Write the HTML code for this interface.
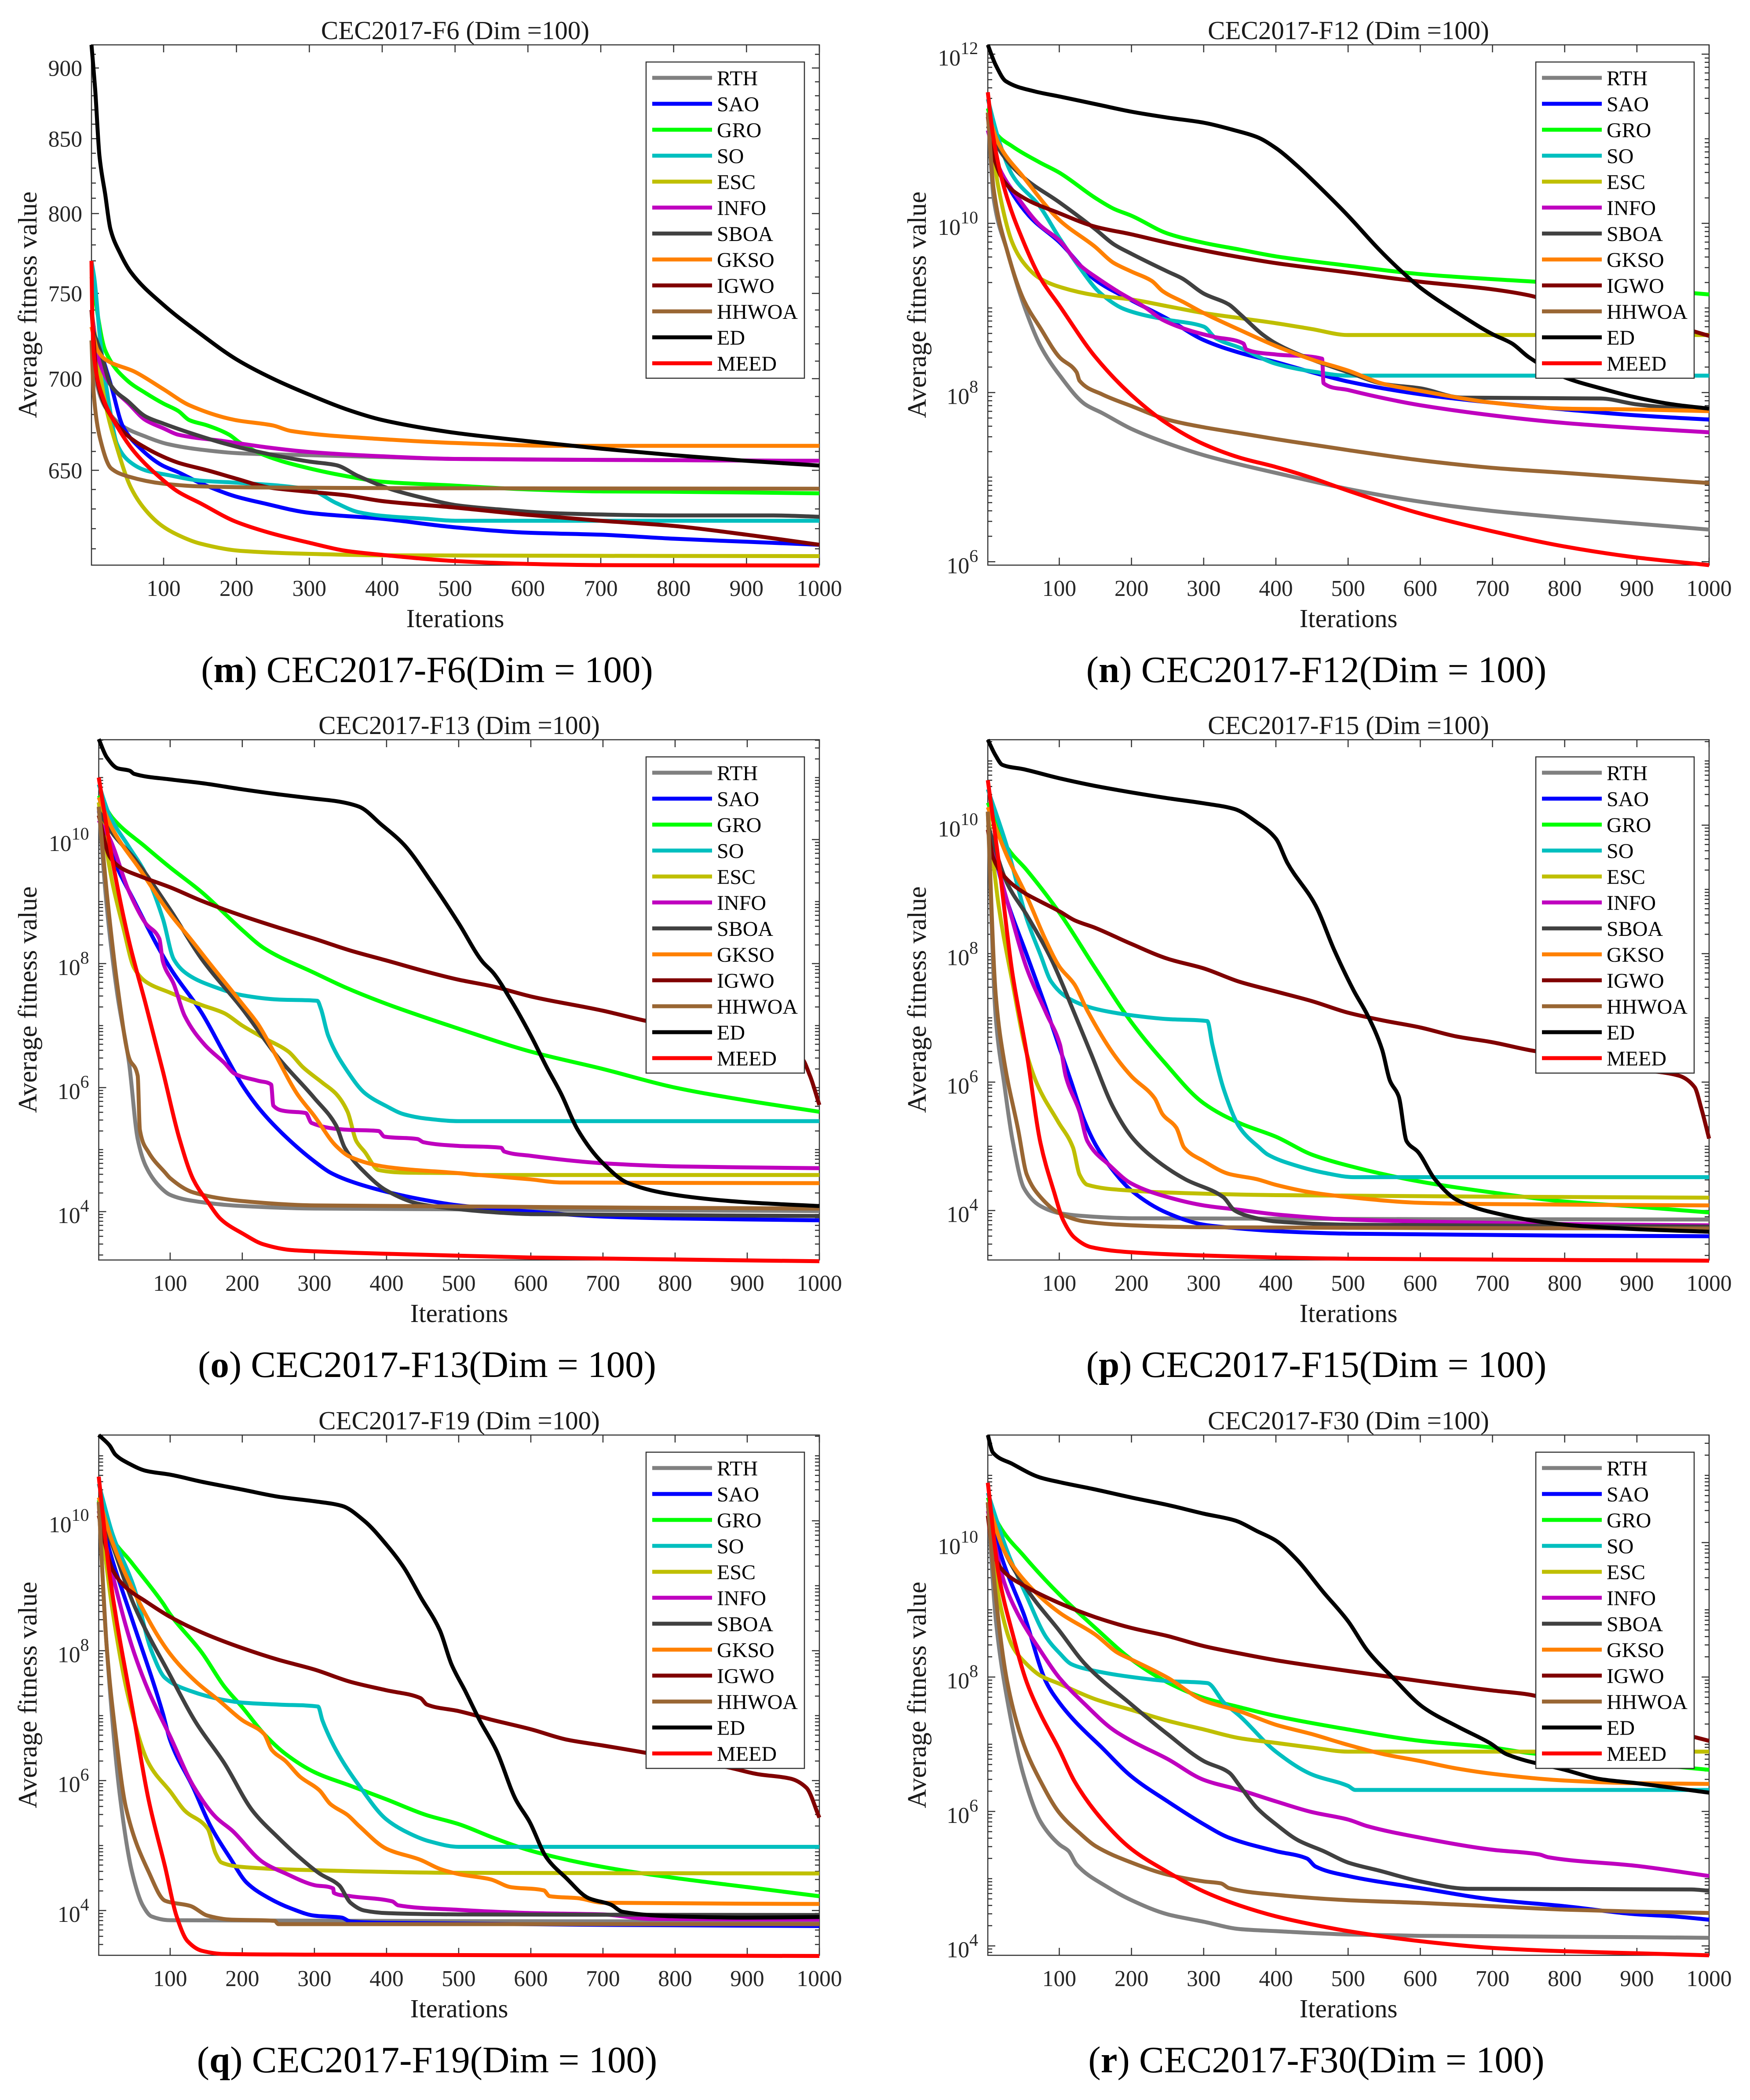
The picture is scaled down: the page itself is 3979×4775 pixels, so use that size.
<!DOCTYPE html>
<html lang="en">
<head>
<meta charset="utf-8">
<title>CEC2017 convergence curves (Dim = 100)</title>
<style>
html,body{margin:0;padding:0;background:#fff;}
svg{display:block;}
text{font-family:"Liberation Serif","Times New Roman",serif;fill:#1a1a1a;}
.title,.xlabel{font-size:59px;}
.ylabel{font-size:60px;}
.caption{font-size:85px;fill:#000;}
.tick{font-size:51.6px;fill:#262626;}
.leg{font-size:48px;fill:#000;}
</style>
</head>
<body>
<svg id="figure" xmlns="http://www.w3.org/2000/svg" width="3979" height="4775" viewBox="0 0 3979 4775">
<rect x="0" y="0" width="3979" height="4775" fill="#fff"/>

<g id="f6">
<text class="title" x="1035" y="89" text-anchor="middle">CEC2017-F6 (Dim =100)</text>
<text class="xlabel" x="1035" y="1426" text-anchor="middle">Iterations</text>
<text class="ylabel" transform="translate(83,693) rotate(-90)" text-anchor="middle">Average fitness value</text>
<text class="caption" x="971" y="1551" text-anchor="middle">(<tspan font-weight="bold">m</tspan>) CEC2017-F6(Dim = 100)</text>
</g>

<g id="f12">
<text class="title" x="3066" y="89" text-anchor="middle">CEC2017-F12 (Dim =100)</text>
<text class="xlabel" x="3066" y="1426" text-anchor="middle">Iterations</text>
<text class="ylabel" transform="translate(2105,693) rotate(-90)" text-anchor="middle">Average fitness value</text>
<text class="caption" x="2993" y="1551" text-anchor="middle">(<tspan font-weight="bold">n</tspan>) CEC2017-F12(Dim = 100)</text>
</g>

<g id="f13">
<text class="title" x="1044" y="1669" text-anchor="middle">CEC2017-F13 (Dim =100)</text>
<text class="xlabel" x="1044" y="3006" text-anchor="middle">Iterations</text>
<text class="ylabel" transform="translate(83,2273) rotate(-90)" text-anchor="middle">Average fitness value</text>
<text class="caption" x="971" y="3131" text-anchor="middle">(<tspan font-weight="bold">o</tspan>) CEC2017-F13(Dim = 100)</text>
</g>

<g id="f15">
<text class="title" x="3066" y="1669" text-anchor="middle">CEC2017-F15 (Dim =100)</text>
<text class="xlabel" x="3066" y="3006" text-anchor="middle">Iterations</text>
<text class="ylabel" transform="translate(2105,2273) rotate(-90)" text-anchor="middle">Average fitness value</text>
<text class="caption" x="2993" y="3131" text-anchor="middle">(<tspan font-weight="bold">p</tspan>) CEC2017-F15(Dim = 100)</text>
</g>

<g id="f19">
<text class="title" x="1044" y="3250" text-anchor="middle">CEC2017-F19 (Dim =100)</text>
<text class="xlabel" x="1044" y="4587" text-anchor="middle">Iterations</text>
<text class="ylabel" transform="translate(83,3854) rotate(-90)" text-anchor="middle">Average fitness value</text>
<text class="caption" x="971" y="4712" text-anchor="middle">(<tspan font-weight="bold">q</tspan>) CEC2017-F19(Dim = 100)</text>
</g>

<g id="f30">
<text class="title" x="3066" y="3250" text-anchor="middle">CEC2017-F30 (Dim =100)</text>
<text class="xlabel" x="3066" y="4587" text-anchor="middle">Iterations</text>
<text class="ylabel" transform="translate(2105,3854) rotate(-90)" text-anchor="middle">Average fitness value</text>
<text class="caption" x="2993" y="4712" text-anchor="middle">(<tspan font-weight="bold">r</tspan>) CEC2017-F30(Dim = 100)</text>
</g>
</svg>

<script>
// Shared categories
const algorithms = ["RTH","SAO","GRO","SO","ESC","INFO","SBOA","GKSO","IGWO","HHWOA","ED","MEED"];
const lineColors = ["#808080","#0000ff","#00ff00","#00bfbf","#bfbf00","#bf00bf","#404040","#ff8000","#800000","#996633","#000000","#ff0000"];
const xTickValues = [100,200,300,400,500,600,700,800,900,1000];
const f6TickValues = [650,700,750,800,850,900];
const f6MinorValues = [610,620,630,640,660,670,680,690,710,720,730,740,760,770,780,790,810,820,830,840,860,870,880,890,910];

// F6: [iteration, fitness]
const F6_RTH=[[1,722],[9,696],[20,684],[44,673.6],[75,668],[105,664],[150,661],[205,659],[300,658],[400,657],[500,656],[645,655.6],[1000,655]];
const F6_SAO=[[1,730],[13,716],[28,696],[44,673.6],[67,662],[98,652.6],[120,649],[150,643.4],[198,636.5],[236,633],[300,628],[400,625],[500,620.7],[600,618],[700,617],[800,615],[900,613.5],[1000,612]];
const F6_GRO=[[1,760],[20,716],[50,699],[75,692],[100,686],[120,682],[135,677],[160,674],[190,669],[205,664.6],[245,657],[300,651],[350,647],[400,644],[500,642],[600,640],[700,639],[800,638.8],[1000,638]];
const F6_SO=[[1,770],[5,759],[13,722],[25,686],[36,664],[52,655],[75,650],[105,647.6],[150,644.6],[205,643.4],[300,640],[337,633],[367,628.4],[400,626.5],[460,625],[500,624],[1000,624]];
const F6_ESC=[[1,740],[20,686],[36,662],[55,641],[75,629.5],[98,621.4],[120,616.8],[150,612.6],[205,609],[300,607.5],[400,606.8],[1000,606.4]];
const F6_INFO=[[1,740],[9,714],[28,696],[52,686],[75,677],[100,672.4],[120,669],[183,665.5],[245,662],[300,659.7],[400,657.4],[500,656],[700,655.5],[1000,655]];
const F6_SBOA=[[1,730],[13,716],[28,696],[52,687],[75,679],[100,675],[136,670],[183,664.3],[245,658.5],[300,654.6],[337,652.7],[367,647],[413,640],[460,635.3],[500,632],[552,630],[645,627.7],[800,626.7],[937,626.7],[1000,626]];
const F6_GKSO=[[1,730],[9,716.6],[20,711],[60,704],[100,694],[136,685],[198,677],[250,674],[275,671],[400,666.6],[500,664.5],[645,663],[1000,663]];
const F6_IGWO=[[1,740],[9,699],[25,681],[52,668],[75,662],[98,657.4],[120,654],[160,650],[198,645.8],[245,641],[300,638.8],[350,637],[400,634],[500,630.7],[600,627],[700,624],[800,621.4],[900,617],[1000,612]];
const F6_HHWOA=[[1,722],[4,692],[13,666.6],[28,651],[52,646.7],[100,643],[150,641.6],[245,641],[500,640.6],[1000,640.4]];
const F6_ED=[[1,917],[6,885],[12,838],[20,812],[27,790],[40,775],[55,763],[100,743],[150,726],[200,711],[250,700],[300,691],[350,683],[400,677],[500,670],[600,665.5],[700,661.5],[800,658],[900,655],[1000,652.5]];
const F6_MEED=[[1,770],[2,738],[5,711],[17,689],[36,673.6],[60,659.7],[100,644.6],[120,638.8],[150,633],[198,623.7],[245,618],[300,613],[350,609],[400,607],[500,604],[600,602.6],[700,602],[1000,601.8]];

// F12: [iteration, log10 fitness]
const F12_RTH=[[1,11.31],[9,10.3],[28,9.67],[51,9.03],[74,8.55],[100,8.21],[136,7.86],[159,7.76],[200,7.57],[250,7.4],[300,7.26],[350,7.15],[400,7.05],[500,6.86],[600,6.71],[700,6.6],[800,6.52],[900,6.45],[1000,6.38]];
const F12_SAO=[[1,11.1],[16,10.67],[58,10.09],[100,9.78],[150,9.33],[200,9.09],[250,8.87],[300,8.62],[350,8.47],[400,8.36],[450,8.24],[500,8.13],[600,7.98],[700,7.88],[800,7.8],[900,7.73],[1000,7.68]];
const F12_GRO=[[1,11.36],[12,11.07],[35,10.91],[73,10.72],[100,10.6],[150,10.3],[176,10.17],[200,10.09],[250,9.88],[300,9.77],[350,9.69],[400,9.61],[500,9.5],[600,9.4],[700,9.34],[800,9.29],[900,9.23],[1000,9.16]];
const F12_SO=[[1,11.47],[16,10.99],[35,10.57],[73,10.2],[100,9.83],[128,9.48],[155,9.19],[189,8.99],[220,8.91],[250,8.86],[300,8.78],[317,8.64],[350,8.53],[400,8.34],[450,8.25],[500,8.2],[513,8.2],[1000,8.2]];
const F12_ESC=[[1,11.31],[16,10.41],[35,9.77],[50,9.54],[73,9.35],[100,9.25],[150,9.15],[200,9.1],[250,9.02],[300,8.94],[350,8.88],[400,8.82],[450,8.75],[500,8.68],[1000,8.68]];
const F12_INFO=[[1,11.1],[16,10.67],[43,10.3],[73,9.98],[100,9.8],[128,9.51],[155,9.34],[182,9.19],[220,9.0],[243,8.86],[282,8.73],[313,8.66],[355,8.58],[359,8.51],[400,8.45],[464,8.4],[466,8.11],[500,8.03],[574,7.89],[600,7.85],[700,7.73],[800,7.64],[900,7.58],[1000,7.53]];
const F12_SBOA=[[1,11.15],[20,10.83],[51,10.54],[100,10.25],[150,9.93],[176,9.75],[200,9.64],[250,9.43],[270,9.35],[300,9.17],[335,9.04],[350,8.93],[381,8.69],[400,8.58],[450,8.39],[500,8.24],[550,8.1],[600,8.05],[658,7.94],[850,7.93],[900,7.86],[950,7.82],[1000,7.8]];
const F12_GKSO=[[1,11.31],[16,10.94],[51,10.54],[100,10.04],[150,9.72],[174,9.54],[200,9.43],[228,9.32],[243,9.2],[274,9.06],[300,8.94],[350,8.74],[400,8.55],[450,8.39],[500,8.26],[550,8.1],[600,8.02],[700,7.88],[800,7.81],[900,7.8],[1000,7.78]];
const F12_IGWO=[[1,11.26],[8,10.83],[24,10.49],[51,10.3],[100,10.12],[150,9.96],[200,9.87],[250,9.77],[300,9.68],[350,9.6],[400,9.53],[500,9.42],[600,9.31],[700,9.22],[750,9.15],[800,9.03],[900,8.87],[950,8.79],[1000,8.67]];
const F12_HHWOA=[[1,11.31],[9,10.41],[28,9.67],[51,9.09],[74,8.76],[100,8.42],[124,8.24],[128,8.14],[159,7.98],[200,7.84],[250,7.68],[300,7.59],[350,7.52],[400,7.45],[500,7.32],[600,7.2],[700,7.11],[800,7.05],[900,6.99],[1000,6.93]];
const F12_ED=[[1,12.11],[12,11.87],[26,11.68],[66,11.56],[100,11.5],[150,11.41],[200,11.32],[250,11.25],[300,11.19],[343,11.1],[374,11.02],[400,10.89],[427,10.7],[458,10.45],[500,10.09],[543,9.69],[573,9.44],[600,9.24],[650,8.95],[700,8.69],[727,8.58],[750,8.42],[800,8.18],[850,8.05],[900,7.94],[950,7.86],[1000,7.81]];
const F12_MEED=[[1,11.55],[8,11.05],[24,10.41],[51,9.77],[74,9.35],[100,9.03],[150,8.42],[200,7.97],[250,7.63],[300,7.39],[350,7.23],[400,7.12],[450,6.99],[500,6.84],[600,6.57],[700,6.36],[800,6.18],[900,6.05],[1000,5.96]];

// F13: [iteration, log10 fitness]
const F13_RTH=[[1,10.53],[12,8.94],[27,7.49],[43,6.4],[55,5.17],[66,4.74],[85,4.41],[100,4.27],[128,4.18],[200,4.09],[300,4.05],[1000,4.01]];
const F13_SAO=[[1,10.46],[20,9.73],[50,9.01],[100,7.93],[144,7.2],[175,6.55],[200,6.04],[225,5.64],[260,5.21],[300,4.81],[322,4.63],[350,4.49],[400,4.32],[447,4.2],[500,4.1],[600,4.0],[700,3.92],[800,3.89],[1000,3.86]];
const F13_GRO=[[1,10.71],[20,10.35],[66,9.88],[100,9.55],[144,9.15],[200,8.54],[230,8.25],[300,7.85],[346,7.6],[400,7.35],[500,6.95],[600,6.58],[700,6.3],[800,6.0],[900,5.79],[1000,5.61]];
const F13_SO=[[1,10.89],[16,10.39],[43,9.88],[66,9.45],[90,8.72],[105,8.07],[125,7.82],[160,7.63],[200,7.49],[250,7.42],[304,7.4],[309,7.27],[319,6.84],[346,6.26],[370,5.91],[400,5.7],[424,5.57],[455,5.5],[500,5.46],[1000,5.46]];
const F13_ESC=[[1,10.6],[20,9.3],[35,8.58],[50,7.93],[66,7.71],[100,7.53],[144,7.33],[175,7.2],[200,7.0],[230,6.8],[264,6.58],[284,6.33],[311,6.08],[330,5.9],[346,5.61],[358,5.14],[370,4.96],[389,4.67],[424,4.63],[500,4.62],[525,4.59],[1000,4.59]];
const F13_INFO=[[1,10.31],[16,10.02],[43,9.16],[66,8.65],[85,8.4],[90,8.03],[105,7.67],[120,7.16],[148,6.69],[175,6.4],[190,6.22],[222,6.11],[240,6.05],[243,5.71],[260,5.62],[288,5.59],[296,5.43],[346,5.32],[389,5.3],[397,5.21],[443,5.17],[451,5.12],[500,5.06],[559,5.03],[563,4.97],[600,4.9],[700,4.78],[800,4.73],[1000,4.7]];
const F13_SBOA=[[1,10.46],[20,10.1],[50,9.7],[100,8.87],[144,8.07],[200,7.27],[250,6.48],[300,5.83],[330,5.39],[342,5.03],[370,4.63],[400,4.34],[447,4.12],[500,4.04],[548,3.99],[600,3.96],[1000,3.93]];
const F13_GKSO=[[1,10.68],[20,10.17],[58,9.52],[100,8.8],[128,8.4],[155,8.0],[200,7.35],[222,7.02],[245,6.55],[276,5.9],[300,5.54],[330,5.06],[350,4.88],[400,4.72],[500,4.62],[600,4.52],[641,4.47],[1000,4.46]];
const F13_IGWO=[[1,10.39],[16,9.73],[31,9.55],[58,9.41],[100,9.23],[144,9.01],[200,8.77],[250,8.58],[300,8.4],[350,8.21],[400,8.05],[455,7.87],[500,7.74],[548,7.63],[600,7.47],[700,7.24],[758,7.08],[800,6.98],[900,6.73],[975,6.48],[987,6.19],[1000,5.72]];
const F13_HHWOA=[[1,10.53],[12,9.16],[27,7.64],[43,6.48],[55,6.19],[58,5.32],[70,4.96],[93,4.63],[100,4.54],[132,4.31],[200,4.17],[300,4.1],[1000,4.05]];
const F13_ED=[[1,11.62],[12,11.33],[27,11.15],[44,11.11],[50,11.06],[100,10.97],[144,10.91],[200,10.81],[250,10.73],[300,10.66],[330,10.62],[362,10.53],[393,10.24],[424,9.92],[463,9.3],[500,8.65],[533,8.03],[548,7.85],[572,7.42],[600,6.84],[622,6.33],[642,5.9],[665,5.32],[700,4.78],[735,4.46],[800,4.27],[900,4.15],[1000,4.09]];
const F13_MEED=[[1,11.0],[20,9.66],[43,8.36],[66,7.35],[90,6.26],[113,5.17],[132,4.52],[152,4.16],[171,3.87],[200,3.65],[230,3.47],[268,3.38],[300,3.36],[400,3.32],[600,3.26],[1000,3.2]];

// F15: [iteration, log10 fitness]
const F15_RTH=[[1,10.21],[12,7.0],[24,5.95],[35,5.11],[51,4.35],[74,4.07],[100,3.96],[128,3.92],[200,3.88],[1000,3.86]];
const F15_SAO=[[1,9.93],[28,8.81],[55,7.98],[82,7.14],[101,6.51],[116,6.02],[135,5.39],[151,5.01],[174,4.63],[200,4.31],[250,3.96],[300,3.78],[350,3.72],[400,3.68],[500,3.64],[800,3.61],[1000,3.6]];
const F15_GRO=[[1,10.35],[28,9.65],[55,9.3],[100,8.64],[150,7.77],[200,6.93],[243,6.34],[300,5.67],[350,5.36],[400,5.15],[450,4.87],[500,4.7],[600,4.45],[700,4.28],[800,4.14],[900,4.06],[1000,3.97]];
const F15_SO=[[1,10.56],[28,9.65],[55,8.54],[74,7.98],[89,7.56],[112,7.31],[150,7.14],[200,7.04],[250,6.98],[305,6.95],[312,6.58],[328,5.88],[350,5.29],[377,4.98],[389,4.87],[428,4.7],[466,4.59],[508,4.52],[1000,4.52]];
const F15_ESC=[[1,10.21],[16,8.75],[35,7.56],[55,6.44],[70,5.95],[98,5.39],[119,4.98],[128,4.56],[139,4.4],[200,4.31],[250,4.28],[400,4.24],[1000,4.2]];
const F15_INFO=[[1,9.93],[28,8.81],[55,7.77],[82,7.07],[101,6.58],[109,6.09],[128,5.54],[139,5.08],[170,4.7],[200,4.42],[250,4.21],[300,4.08],[350,4.01],[400,3.94],[500,3.86],[600,3.83],[800,3.79],[1000,3.77]];
const F15_SBOA=[[1,10.0],[28,9.09],[55,8.6],[89,7.91],[121,7.07],[144,6.44],[175,5.6],[200,5.15],[228,4.84],[274,4.49],[327,4.21],[343,4.0],[366,3.9],[400,3.83],[500,3.78],[1000,3.75]];
const F15_GKSO=[[1,10.28],[28,9.51],[55,8.89],[82,8.19],[100,7.8],[121,7.52],[139,7.11],[175,6.44],[200,6.09],[232,5.75],[243,5.5],[262,5.29],[273,4.98],[300,4.77],[335,4.57],[373,4.49],[400,4.4],[450,4.28],[500,4.21],[600,4.12],[700,4.1],[1000,4.08]];
const F15_IGWO=[[1,9.93],[8,9.51],[24,9.2],[51,8.95],[74,8.81],[100,8.66],[121,8.52],[150,8.4],[200,8.15],[250,7.92],[300,7.77],[350,7.56],[400,7.41],[450,7.26],[500,7.08],[548,6.96],[600,6.85],[650,6.71],[700,6.62],[750,6.5],[800,6.41],[900,6.2],[958,6.1],[980,5.92],[989,5.6],[1000,5.12]];
const F15_HHWOA=[[1,10.21],[12,7.35],[24,6.3],[43,5.26],[55,4.56],[74,4.21],[100,3.96],[135,3.83],[200,3.77],[300,3.74],[1000,3.72]];
const F15_ED=[[1,11.33],[12,11.08],[21,10.94],[51,10.87],[100,10.73],[150,10.61],[200,10.51],[250,10.42],[300,10.34],[343,10.25],[374,10.04],[400,9.79],[416,9.41],[455,8.75],[481,8.05],[508,7.42],[527,7.04],[547,6.51],[558,6.02],[570,5.78],[581,5.08],[597,4.91],[620,4.49],[650,4.17],[700,3.97],[800,3.78],[900,3.71],[1000,3.67]];
const F15_MEED=[[1,10.7],[16,9.44],[35,7.7],[55,6.44],[74,5.05],[93,4.28],[105,3.86],[121,3.58],[144,3.43],[200,3.35],[300,3.3],[500,3.25],[1000,3.22]];

// F19: [iteration, log10 fitness]
const F19_RTH=[[1,10.29],[12,8.07],[31,5.71],[47,4.6],[62,4.08],[74,3.91],[100,3.85],[1000,3.83]];
const F19_SAO=[[1,10.15],[20,9.39],[47,8.49],[90,7.03],[100,6.62],[132,5.89],[156,5.3],[183,4.81],[206,4.43],[237,4.19],[268,4.03],[300,3.92],[338,3.89],[350,3.83],[400,3.81],[1000,3.76]];
const F19_GRO=[[1,10.32],[16,9.8],[47,9.35],[90,8.73],[100,8.56],[144,7.97],[175,7.45],[200,7.13],[230,6.72],[260,6.41],[300,6.13],[350,5.92],[400,5.71],[455,5.47],[500,5.33],[548,5.12],[600,4.92],[700,4.67],[800,4.5],[900,4.36],[1000,4.22]];
const F19_SO=[[1,10.57],[20,9.8],[50,8.97],[74,8.0],[93,7.58],[128,7.38],[175,7.24],[200,7.2],[250,7.17],[305,7.14],[311,6.93],[330,6.47],[362,5.92],[400,5.4],[431,5.19],[458,5.07],[500,4.98],[1000,4.98]];
const F19_ESC=[[1,10.29],[20,8.63],[43,7.24],[70,6.27],[101,5.82],[120,5.54],[152,5.26],[163,4.88],[171,4.74],[200,4.67],[300,4.62],[500,4.58],[1000,4.57]];
const F19_INFO=[[1,10.15],[20,9.18],[47,8.07],[70,7.38],[100,6.68],[132,5.92],[163,5.44],[186,5.23],[229,4.74],[260,4.57],[300,4.39],[326,4.34],[327,4.27],[350,4.22],[408,4.14],[416,4.08],[500,4.01],[533,3.99],[600,3.96],[700,3.94],[766,3.87],[1000,3.86]];
const F19_SBOA=[[1,10.15],[16,9.74],[50,8.7],[100,7.62],[136,6.89],[175,6.27],[214,5.54],[250,5.12],[276,4.85],[307,4.57],[334,4.39],[350,4.12],[369,4.0],[400,3.96],[500,3.94],[1000,3.93]];
const F19_GKSO=[[1,10.36],[20,9.67],[50,8.9],[100,7.95],[136,7.52],[167,7.24],[200,6.93],[230,6.72],[241,6.47],[260,6.3],[280,6.06],[307,5.85],[322,5.64],[346,5.47],[362,5.3],[400,4.95],[447,4.78],[474,4.64],[500,4.56],[544,4.48],[572,4.36],[618,4.31],[626,4.22],[665,4.19],[700,4.12],[1000,4.1]];
const F19_IGWO=[[1,10.08],[20,9.25],[39,8.97],[66,8.76],[100,8.52],[144,8.28],[200,8.04],[250,7.86],[300,7.71],[350,7.52],[400,7.39],[447,7.27],[456,7.17],[500,7.07],[548,6.93],[600,6.79],[650,6.63],[700,6.54],[758,6.43],[800,6.34],[875,6.2],[914,6.1],[960,6.03],[982,5.89],[1000,5.43]];
const F19_HHWOA=[[1,10.29],[12,8.07],[24,6.75],[39,5.57],[70,4.6],[93,4.15],[128,4.07],[152,3.92],[183,3.86],[245,3.84],[250,3.79],[1000,3.79]];
const F19_ED=[[1,11.32],[16,11.16],[24,11.02],[43,10.88],[66,10.77],[100,10.71],[144,10.6],[200,10.48],[250,10.37],[300,10.3],[338,10.23],[369,10.0],[400,9.63],[424,9.28],[447,8.83],[474,8.31],[490,7.79],[509,7.38],[529,6.93],[552,6.47],[579,5.71],[598,5.37],[622,4.81],[649,4.5],[680,4.19],[711,4.09],[727,3.98],[800,3.91],[900,3.89],[1000,3.9]];
const F19_MEED=[[1,10.68],[16,9.18],[50,6.96],[70,5.71],[93,4.67],[109,3.91],[124,3.53],[144,3.38],[175,3.33],[300,3.32],[1000,3.3]];

// F30: [iteration, log10 fitness]
const F30_RTH=[[1,10.6],[12,8.86],[28,7.66],[51,6.52],[74,5.85],[100,5.51],[113,5.41],[124,5.21],[166,4.88],[200,4.68],[250,4.47],[300,4.36],[350,4.25],[400,4.22],[500,4.17],[600,4.15],[900,4.13],[1000,4.12]];
const F30_SAO=[[1,10.47],[24,9.66],[51,8.93],[82,7.92],[100,7.62],[121,7.35],[159,6.95],[200,6.52],[250,6.15],[300,5.81],[335,5.61],[400,5.41],[443,5.3],[455,5.18],[500,5.04],[600,4.86],[700,4.69],[800,4.59],[900,4.47],[950,4.44],[1000,4.39]];
const F30_GRO=[[1,10.67],[16,10.27],[51,9.8],[100,9.23],[150,8.73],[200,8.26],[250,7.92],[300,7.69],[350,7.55],[400,7.42],[500,7.22],[600,7.05],[700,6.95],[750,6.87],[800,6.82],[900,6.72],[1000,6.62]];
const F30_SO=[[1,10.74],[28,9.87],[55,9.2],[82,8.59],[100,8.36],[117,8.19],[150,8.09],[200,8.0],[250,7.94],[305,7.91],[328,7.62],[350,7.42],[400,6.89],[450,6.55],[500,6.38],[510,6.32],[1000,6.32]];
const F30_ESC=[[1,10.6],[16,9.2],[35,8.46],[55,8.19],[74,8.02],[100,7.9],[150,7.67],[200,7.51],[250,7.35],[300,7.22],[350,7.09],[400,7.02],[450,6.95],[500,6.89],[1000,6.89]];
const F30_INFO=[[1,10.47],[24,9.4],[43,8.93],[74,8.39],[100,7.99],[136,7.59],[174,7.22],[200,7.05],[250,6.78],[300,6.47],[350,6.32],[400,6.15],[450,5.99],[500,5.88],[527,5.78],[600,5.61],[700,5.43],[765,5.36],[777,5.32],[900,5.19],[1000,5.04]];
const F30_SBOA=[[1,10.54],[24,9.87],[58,9.26],[100,8.69],[136,8.19],[200,7.59],[250,7.15],[300,6.75],[335,6.58],[350,6.38],[374,6.05],[400,5.81],[431,5.57],[466,5.41],[500,5.24],[543,5.12],[600,4.96],[666,4.85],[975,4.84],[1000,4.82]];
const F30_GKSO=[[1,10.6],[24,9.87],[58,9.36],[100,8.96],[150,8.63],[181,8.36],[200,8.26],[250,7.99],[300,7.65],[350,7.49],[400,7.29],[450,7.15],[500,6.99],[550,6.85],[600,6.75],[650,6.64],[700,6.56],[800,6.46],[900,6.42],[1000,6.41]];
const F30_IGWO=[[1,10.4],[8,9.87],[24,9.56],[51,9.36],[100,9.1],[150,8.89],[200,8.73],[250,8.61],[300,8.46],[350,8.35],[400,8.25],[500,8.09],[600,7.94],[700,7.8],[750,7.74],[800,7.59],[900,7.32],[950,7.19],[1000,7.05]];
const F30_HHWOA=[[1,10.6],[12,9.2],[28,7.92],[51,6.99],[74,6.45],[100,5.98],[128,5.68],[151,5.48],[200,5.24],[250,5.06],[300,4.96],[324,4.93],[335,4.86],[400,4.76],[500,4.68],[600,4.64],[700,4.59],[800,4.54],[900,4.51],[1000,4.49]];
const F30_ED=[[1,11.6],[8,11.34],[35,11.17],[73,10.97],[100,10.9],[150,10.79],[200,10.67],[250,10.56],[300,10.43],[343,10.33],[374,10.17],[400,10.03],[427,9.77],[466,9.26],[500,8.83],[527,8.39],[562,7.99],[604,7.55],[654,7.25],[696,7.02],[720,6.85],[800,6.62],[850,6.48],[900,6.42],[1000,6.28]];
const F30_MEED=[[1,10.89],[16,9.53],[35,8.66],[55,7.92],[74,7.45],[100,6.92],[121,6.45],[159,5.88],[200,5.44],[250,5.1],[300,4.81],[350,4.6],[400,4.44],[450,4.32],[500,4.22],[600,4.07],[700,3.97],[800,3.92],[900,3.89],[1000,3.86]];

const NS = "http://www.w3.org/2000/svg";

function make(tag, parent, attrs) {
  const el = document.createElementNS(NS, tag);
  for (const k in attrs) el.setAttribute(k, attrs[k]);
  parent.appendChild(el);
  return el;
}

// Monotone cubic curve through the scaled data points (no overshoot).
function monotonePath(pts) {
  const n = pts.length;
  const h = [], m = [], t = new Array(n);
  for (let i = 0; i < n - 1; i++) {
    h[i] = pts[i + 1][0] - pts[i][0];
    m[i] = (pts[i + 1][1] - pts[i][1]) / h[i];
  }
  t[0] = m[0];
  t[n - 1] = m[n - 2];
  for (let i = 1; i < n - 1; i++) {
    if (m[i - 1] * m[i] <= 0) { t[i] = 0; continue; }
    t[i] = 3 * (h[i - 1] + h[i]) / ((2 * h[i] + h[i - 1]) / m[i - 1] + (h[i] + 2 * h[i - 1]) / m[i]);
  }
  let d = "M" + pts[0][0].toFixed(1) + " " + pts[0][1].toFixed(1);
  for (let i = 0; i < n - 1; i++) {
    const a = pts[i], b = pts[i + 1], s = h[i] / 3;
    d += "C" + (a[0] + s).toFixed(1) + " " + (a[1] + t[i] * s).toFixed(1) + " " +
         (b[0] - s).toFixed(1) + " " + (b[1] - t[i + 1] * s).toFixed(1) + " " +
         b[0].toFixed(1) + " " + b[1].toFixed(1);
  }
  return d;
}

function drawChart(cfg) {
  const root = document.getElementById(cfg.id);
  const L = cfg.L, R = cfg.R, T = cfg.T, B = cfg.B;
  const xScale = i => L + (i - 1) / 999 * (R - L);
  const toLog = cfg.linearValues ? (v => Math.log10(v)) : (v => v);
  const yScale = v => B - (toLog(v) - cfg.yMin) / (cfg.yMax - cfg.yMin) * (B - T);

  const axes = make("g", root, {stroke: "#333", "stroke-width": 2.5, fill: "none"});
  
  
  const frame = make("rect", axes, {x: L, y: T, width: R - L, height: B - T});
  
  

  // x ticks
  xTickValues.forEach(t => {
    const x = xScale(t);
    const tick = make("path", axes, {d: `M${x} ${B}V${B - 17}M${x} ${T}V${T + 17}`});
    
    
    const lab = make("text", root, {class: "tick", x: x, y: B + 70, "text-anchor": "middle"});
    
    
    lab.textContent = t;
  });

  // y ticks
  const drawY = (y, len) => {
    const tick = make("path", axes, {d: `M${L} ${y}H${L + len}M${R} ${y}H${R - len}`});
    
    
  };
  if (cfg.linearValues) {
    f6MinorValues.forEach(v => drawY(yScale(v), 10));
    f6TickValues.forEach(v => {
      const y = yScale(v);
      drawY(y, 17);
      const lab = make("text", root, {class: "tick", x: L - 21, y: y + 18, "text-anchor": "end"});
      
      
      lab.textContent = v;
    });
  } else {
    for (let k = Math.floor(cfg.yMin); k <= Math.ceil(cfg.yMax); k++) {
      for (let m = 1; m < 10; m++) {
        const e = k + Math.log10(m);
        if (e < cfg.yMin || e > cfg.yMax) continue;
        const major = m === 1 && cfg.exponents.includes(k);
        if (!major) drawY(yScale(e), 10);
      }
    }
    cfg.exponents.forEach(k => {
      const y = yScale(k);
      drawY(y, 17);
      const lab = make("text", root, {class: "tick", x: L - 22, y: y + 26, "text-anchor": "end"});
      
      
      const base = make("tspan", lab, {});
      base.textContent = "10";
      const sup = make("tspan", lab, {dy: -26, "font-size": 40});
      sup.textContent = k;
    });
  }

  // series
  cfg.series.forEach((pts, s) => {
    const line = make("path", root, {
      d: monotonePath(pts.map(p => [xScale(p[0]), yScale(p[1])])),
      fill: "none", stroke: lineColors[s], "stroke-width": 9,
      "stroke-linejoin": "round", "stroke-linecap": "butt"
    });
    
    
  });

  // legend
  const lx = R - 394, ly = T + 39;
  const legend = make("g", root, {});
  
  
  const box = make("rect", legend, {x: lx, y: ly, width: 360, height: 719, fill: "#fff", stroke: "#333", "stroke-width": 2.5});
  
  
  algorithms.forEach((name, s) => {
    const y = T + 75 + s * 59;
    const swatch = make("line", legend, {x1: lx + 14, x2: lx + 150, y1: y, y2: y, stroke: lineColors[s], "stroke-width": 9});
    
    
    const label = make("text", legend, {class: "leg", x: lx + 161, y: y + 17});
    
    
    label.textContent = name;
  });
}

drawChart({id: "f6", L: 208, R: 1863, T: 102, B: 1285, linearValues: true,
  yMin: Math.log10(602), yMax: Math.log10(917),
  series: [F6_RTH,F6_SAO,F6_GRO,F6_SO,F6_ESC,F6_INFO,F6_SBOA,F6_GKSO,F6_IGWO,F6_HHWOA,F6_ED,F6_MEED]});
drawChart({id: "f12", L: 2246, R: 3886, T: 102, B: 1285, yMin: 5.96, yMax: 12.11, exponents: [6,8,10,12],
  series: [F12_RTH,F12_SAO,F12_GRO,F12_SO,F12_ESC,F12_INFO,F12_SBOA,F12_GKSO,F12_IGWO,F12_HHWOA,F12_ED,F12_MEED]});
drawChart({id: "f13", L: 224.5, R: 1863, T: 1682, B: 2865, yMin: 3.22, yMax: 11.61, exponents: [4,6,8,10],
  series: [F13_RTH,F13_SAO,F13_GRO,F13_SO,F13_ESC,F13_INFO,F13_SBOA,F13_GKSO,F13_IGWO,F13_HHWOA,F13_ED,F13_MEED]});
drawChart({id: "f15", L: 2246, R: 3886, T: 1682, B: 2865, yMin: 3.23, yMax: 11.33, exponents: [4,6,8,10],
  series: [F15_RTH,F15_SAO,F15_GRO,F15_SO,F15_ESC,F15_INFO,F15_SBOA,F15_GKSO,F15_IGWO,F15_HHWOA,F15_ED,F15_MEED]});
drawChart({id: "f19", L: 224.5, R: 1863, T: 3263, B: 4446, yMin: 3.31, yMax: 11.32, exponents: [4,6,8,10],
  series: [F19_RTH,F19_SAO,F19_GRO,F19_SO,F19_ESC,F19_INFO,F19_SBOA,F19_GKSO,F19_IGWO,F19_HHWOA,F19_ED,F19_MEED]});
drawChart({id: "f30", L: 2246, R: 3886, T: 3263, B: 4446, yMin: 3.86, yMax: 11.6, exponents: [4,6,8,10],
  series: [F30_RTH,F30_SAO,F30_GRO,F30_SO,F30_ESC,F30_INFO,F30_SBOA,F30_GKSO,F30_IGWO,F30_HHWOA,F30_ED,F30_MEED]});
</script>
</body>
</html>
